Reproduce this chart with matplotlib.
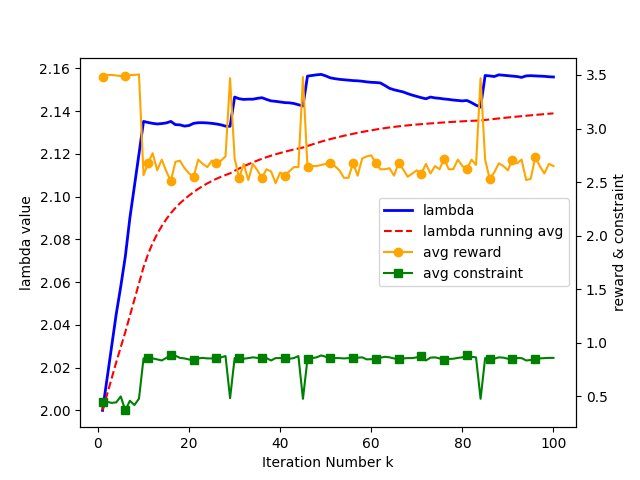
import numpy as np
import matplotlib
matplotlib.use("Agg")
import matplotlib.pyplot as plt

# iteration numbers
k = np.arange(1, 101)

# lambda per iteration
lam = [
    2.000, 2.015, 2.030, 2.045, 2.058, 2.072, 2.090, 2.105, 2.120, 2.1352,
    2.1347, 2.1343, 2.1340, 2.1342, 2.1345, 2.1352, 2.1337, 2.1336, 2.1330, 2.1333,
    2.1343, 2.1346, 2.1346, 2.1345, 2.1343, 2.1340, 2.1336, 2.1330, 2.1329, 2.1466,
    2.1458, 2.1455, 2.1456, 2.1456, 2.1460, 2.1463, 2.1455, 2.1448, 2.1446, 2.1443,
    2.1440, 2.1439, 2.1436, 2.1430, 2.1424, 2.1564, 2.1567, 2.1570, 2.1572, 2.1565,
    2.1556, 2.1552, 2.1549, 2.1547, 2.1545, 2.1543, 2.1542, 2.1540, 2.1537, 2.1535,
    2.1534, 2.1532, 2.1520, 2.1507, 2.1500, 2.1495, 2.1490, 2.1482, 2.1475, 2.1469,
    2.1463, 2.1458, 2.1466, 2.1462, 2.1460, 2.1457, 2.1455, 2.1452, 2.1450, 2.1448,
    2.1450, 2.1440, 2.1428, 2.1419, 2.1567, 2.1565, 2.1562, 2.1570, 2.1568, 2.1566,
    2.1564, 2.1562, 2.1558, 2.1565, 2.1566, 2.1565, 2.1564, 2.1563, 2.1561, 2.1560,
]

# average reward per iteration
reward = [
    3.48, 3.50, 3.50, 3.495, 3.49, 3.49, 3.50, 3.50, 3.505, 2.565,
    2.675, 2.77, 2.61, 2.71, 2.60, 2.51, 2.69, 2.70, 2.63, 2.58,
    2.55, 2.71, 2.67, 2.64, 2.70, 2.675, 2.70, 2.74, 3.47, 2.72,
    2.54, 2.67, 2.52, 2.67, 2.61, 2.54, 2.62, 2.60, 2.49, 2.59,
    2.56, 2.60, 2.64, 2.64, 3.48, 2.64, 2.65, 2.65, 2.66, 2.67,
    2.68, 2.65, 2.61, 2.54, 2.54, 2.68, 2.56, 2.72, 2.74, 2.75,
    2.675, 2.62, 2.62, 2.63, 2.56, 2.68, 2.62, 2.55, 2.58, 2.61,
    2.58, 2.67, 2.58, 2.65, 2.62, 2.72, 2.62, 2.62, 2.71, 2.65,
    2.62, 2.71, 2.66, 3.47, 2.71, 2.53, 2.59, 2.675, 2.65, 2.61,
    2.71, 2.675, 2.71, 2.52, 2.53, 2.73, 2.65, 2.58, 2.67, 2.65,
]

# average constraint per iteration
constraint = [
    0.445, 0.45, 0.44, 0.445, 0.50, 0.37, 0.46, 0.42, 0.48, 0.855,
    0.86, 0.855, 0.846, 0.836, 0.86, 0.889, 0.88, 0.86, 0.855, 0.845,
    0.836, 0.855, 0.86, 0.855, 0.855, 0.858, 0.865, 0.877, 0.484, 0.858,
    0.858, 0.852, 0.858, 0.865, 0.86, 0.858, 0.858, 0.836, 0.858, 0.858,
    0.858, 0.852, 0.858, 0.877, 0.478, 0.852, 0.858, 0.865, 0.883, 0.87,
    0.858, 0.858, 0.858, 0.855, 0.858, 0.858, 0.862, 0.865, 0.846, 0.848,
    0.846, 0.862, 0.87, 0.865, 0.855, 0.846, 0.855, 0.858, 0.858, 0.865,
    0.877, 0.836, 0.862, 0.865, 0.855, 0.836, 0.85, 0.852, 0.86, 0.865,
    0.883, 0.87, 0.865, 0.478, 0.858, 0.852, 0.852, 0.865, 0.862, 0.852,
    0.852, 0.858, 0.858, 0.836, 0.84, 0.846, 0.855, 0.858, 0.86, 0.86,
]

lam = np.array(lam)
lam_avg = np.cumsum(lam) / k   # running average of lambda

fig, ax1 = plt.subplots(figsize=(6.4, 4.8), dpi=100)
l1, = ax1.plot(k, lam, color="blue", lw=2, label="lambda")
l2, = ax1.plot(k, lam_avg, color="red", ls="--", label="lambda running avg")
ax1.set_xlabel("Iteration Number k")
ax1.set_ylabel("lambda value")

ax2 = ax1.twinx()
l3, = ax2.plot(k, reward, color="orange", marker="o", markevery=5, label="avg reward")
l4, = ax2.plot(k, constraint, color="green", marker="s", markevery=5, label="avg constraint")
ax2.set_ylabel("reward & constraint")

lines = [l1, l2, l3, l4]
ax2.legend(lines, [l.get_label() for l in lines], loc="center right")

fig.savefig("out.png")
